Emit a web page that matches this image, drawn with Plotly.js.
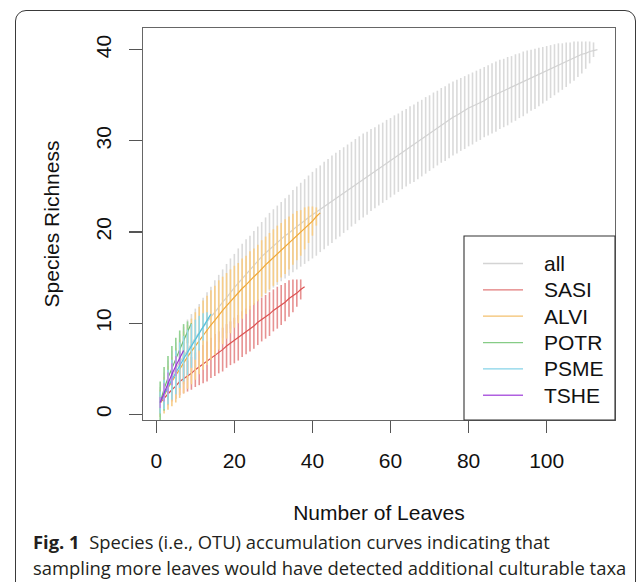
<!DOCTYPE html>
<html><head><meta charset="utf-8">
<script src="https://cdn.plot.ly/plotly-3.0.1.min.js"></script>
<style>
html,body{margin:0;padding:0;background:#fff;overflow:hidden;width:636px;height:582px}
#card{position:absolute;left:15px;top:10px;width:621px;height:700px;border:1.3px solid #3a3a3a;border-radius:11px;box-sizing:border-box}
#chart{position:absolute;left:0;top:0;width:636px;height:582px}
</style></head><body>
<div id="card"></div><div id="chart"></div>
<script>
// ---- data ----
const groupNames = ['all', 'SASI', 'ALVI', 'POTR', 'PSME', 'TSHE'];

const allMean = [1.2,2.2,3.1,4.1,5.0,5.7,6.4,7.1,7.8,8.4,9.0,9.6,10.1,10.7,11.2,11.8,12.3,12.8,13.4,13.9,
14.4,14.9,15.4,15.9,16.4,16.9,17.3,17.7,18.1,18.5,18.9,19.2,19.6,19.9,20.3,20.6,20.9,21.3,21.6,21.9,
22.2,22.5,22.8,23.1,23.4,23.7,24.0,24.3,24.6,24.9,25.2,25.5,25.8,26.1,26.4,26.7,27.0,27.3,27.6,27.9,
28.2,28.5,28.8,29.1,29.4,29.7,30.0,30.3,30.6,30.9,31.2,31.5,31.8,32.0,32.3,32.6,32.8,33.1,33.3,33.6,
33.8,34.0,34.2,34.4,34.7,34.9,35.1,35.3,35.5,35.7,35.9,36.1,36.3,36.5,36.7,36.9,37.1,37.3,37.5,37.7,
37.9,38.1,38.3,38.5,38.7,38.9,39.1,39.3,39.5,39.6,39.8,39.9,40.0];
const allHi = [3.0,4.6,5.9,7.0,7.9,8.8,9.6,10.4,11.0,11.6,12.1,12.8,13.4,14.0,14.7,15.3,15.9,16.5,17.1,17.6,
18.2,18.7,19.2,19.6,20.1,20.6,21.1,21.6,22.1,22.5,22.9,23.3,23.7,24.1,24.6,25.0,25.4,25.8,26.2,26.6,
27.0,27.3,27.7,28.0,28.4,28.7,29.0,29.3,29.6,29.9,30.2,30.5,30.8,31.0,31.3,31.5,31.8,32.0,32.3,32.5,
32.8,33.0,33.3,33.5,33.8,34.0,34.3,34.5,34.8,35.0,35.3,35.5,35.8,36.0,36.3,36.5,36.7,36.9,37.1,37.3,
37.5,37.7,37.9,38.1,38.3,38.5,38.7,38.9,39.0,39.2,39.3,39.5,39.6,39.8,39.9,40.0,40.1,40.2,40.3,40.4,
40.5,40.6,40.7,40.7,40.8,40.8,40.9,40.9,40.9,40.9,40.9,40.8,40.0];
const allLo = [0.0,0.5,1.1,1.7,2.2,2.7,3.3,3.8,4.4,4.9,5.4,5.9,6.4,6.9,7.4,7.9,8.4,8.9,9.4,9.9,
10.3,10.8,11.2,11.6,12.0,12.4,12.8,13.2,13.5,13.9,14.2,14.6,14.9,15.2,15.6,15.9,16.2,16.5,16.8,17.1,
17.4,17.8,18.1,18.5,18.8,19.2,19.5,19.9,20.2,20.6,20.9,21.3,21.6,21.9,22.3,22.6,22.9,23.2,23.5,23.8,
24.1,24.4,24.7,25.0,25.3,25.5,25.8,26.1,26.4,26.7,27.0,27.3,27.6,27.8,28.1,28.4,28.6,28.9,29.1,29.4,
29.6,29.9,30.1,30.4,30.6,30.8,31.0,31.3,31.5,31.7,32.0,32.2,32.5,32.7,33.0,33.3,33.5,33.8,34.1,34.4,
34.7,35.0,35.3,35.6,35.9,36.3,36.6,37.0,37.4,37.9,38.5,39.2,40.0];

const sasiMean = [1.3,1.8,2.2,2.7,3.1,3.6,3.9,4.2,4.5,4.9,5.2,5.5,5.8,6.2,6.5,6.8,7.1,7.5,7.8,8.1,
8.4,8.8,9.1,9.4,9.7,10.1,10.4,10.7,11.0,11.4,11.7,12.0,12.3,12.7,13.0,13.3,13.7,14.0];
const sasiCI = [0.8,1.1,1.2,1.3,1.4,1.5,1.6,1.7,1.8,1.9,2.0,2.1,2.2,2.2,2.3,2.3,2.4,2.4,2.4,2.5,
2.5,2.5,2.5,2.5,2.5,2.5,2.4,2.4,2.4,2.3,2.3,2.2,2.1,2.0,1.8,1.5,1.1,0.0];

const alviMean = [1.2,2.1,2.9,3.6,4.3,5.0,5.7,6.3,6.9,7.5,8.1,8.7,9.2,9.8,10.3,10.9,11.4,11.9,12.4,12.9,
13.3,13.8,14.2,14.7,15.1,15.5,16.0,16.4,16.8,17.2,17.6,18.0,18.4,18.8,19.2,19.6,19.9,20.4,20.8,21.2,
21.7,22.1];
const alviCI = [1.5,2.0,2.4,2.7,3.0,3.2,3.4,3.5,3.6,3.7,3.7,3.8,3.8,3.8,3.8,3.8,3.7,3.6,3.5,3.4,
3.3,3.3,3.2,3.2,3.1,3.1,3.1,3.1,3.1,3.1,3.1,3.0,3.0,2.9,2.8,2.7,2.5,2.3,2.0,1.6,
1.0,0.0];

const potrMean = [1.3,2.8,4.0,5.1,6.1,7.1,8.1,9.0,10.0];
const potrCI   = [2.3,2.4,2.4,2.4,2.3,2.1,1.8,1.2,0.0];

const psmeMean = [1.3,2.2,3.0,3.8,4.6,5.4,6.1,6.8,7.5,8.2,8.9,9.6,10.3,11.0];
const psmeCI   = [1.2,1.6,1.9,2.2,2.4,2.5,2.5,2.5,2.4,2.2,1.9,1.5,0.9,0.0];

const tsheMean = [1.3,2.4,3.4,4.4,5.3,6.2,7.0];
const tsheCI   = [0.6,1.0,1.2,1.2,1.1,0.8,0.0];

const xTicks = [0, 20, 40, 60, 80, 100];
const yTicks = [0, 10, 20, 30, 40];

const captionLines = [
  '<b>Fig. 1</b>  Species (i.e., OTU) accumulation curves indicating that',
  'sampling more leaves would have detected additional culturable taxa'
];

// ---- styles ----
const lineColors = ['#d2d2d2', '#dc5252', '#f0a838', '#6cbd6c', '#56c2de', '#9a38d0'];
const barColors  = ['#dadada', '#e79292', '#f7cd88', '#93d293', '#95d9ea', '#bf8de3'];
const legendColors = ['#d4d4d4', '#e27a7a', '#f3c06e', '#86cc86', '#86d3e8', '#b060e0'];

const series = [
  {mean: allMean, hi: allHi, lo: allLo},
  {mean: sasiMean, ci: sasiCI},
  {mean: alviMean, ci: alviCI},
  {mean: potrMean, ci: potrCI},
  {mean: psmeMean, ci: psmeCI},
  {mean: tsheMean, ci: tsheCI}
];

const FONT = 'Liberation Sans, Arial, Helvetica, sans-serif';
const CAPFONT = 'Open Sans, Noto Sans, sans-serif';
const traces = [];
series.forEach((s, i) => {
  const x = s.mean.map((_, k) => k + 1);
  const plus = s.hi ? s.hi.map((v, k) => v - s.mean[k]) : s.ci;
  const minus = s.lo ? s.lo.map((v, k) => s.mean[k] - v) : s.ci;
  traces.push({
    type: 'scatter', mode: 'markers', x: x, y: s.mean,
    marker: {size: 1, color: 'rgba(0,0,0,0)'},
    error_y: {type: 'data', symmetric: false, array: plus, arrayminus: minus,
              width: 0, thickness: 1.6, color: barColors[i]},
    showlegend: false, hoverinfo: 'skip'
  });
  traces.push({
    type: 'scatter', mode: 'lines', x: x, y: s.mean, name: groupNames[i],
    line: {color: lineColors[i], width: 1.2}, hoverinfo: 'skip', showlegend: false
  });
});

const PX = v => (v - 143) / 472;   // pixel -> paper x
const PY = v => (420 - v) / 392;   // pixel -> paper y

// legend (box in the bottom-right corner of the plot, as in the R figure)
const shapes = [{
  type: 'rect', xref: 'paper', yref: 'paper',
  x0: PX(464), x1: 1, y0: 0, y1: PY(236),
  line: {color: '#333', width: 1.1}, fillcolor: 'rgba(0,0,0,0)'
}];
const annotations = [];
groupNames.forEach((name, i) => {
  const rowY = PY(263.5 + i * 26.35);
  shapes.push({type: 'line', xref: 'paper', yref: 'paper',
    x0: PX(483), x1: PX(523), y0: rowY, y1: rowY,
    line: {color: legendColors[i], width: 1.3}});
  annotations.push({xref: 'paper', yref: 'paper', x: PX(542), y: rowY,
    xanchor: 'left', yanchor: 'middle', showarrow: false, text: name,
    font: {family: FONT, size: 21, color: '#111'}});
});
captionLines.forEach((line, i) => {
  annotations.push({xref: 'paper', yref: 'paper', x: PX(31), y: PY(541 + i * 26.5),
    xanchor: 'left', yanchor: 'middle', showarrow: false, align: 'left', text: line,
    font: {family: CAPFONT, size: 18.4, color: '#231f20'}});
});

const layout = {
  width: 636, height: 582,
  margin: {l: 143, r: 21, t: 28, b: 162},
  paper_bgcolor: 'rgba(0,0,0,0)', plot_bgcolor: 'rgba(0,0,0,0)',
  showlegend: false,
  font: {family: FONT, color: '#111'},
  xaxis: {
    range: [-3.4, 117.5], tickvals: xTicks, ticktext: xTicks.map(String),
    ticks: 'outside', ticklen: 12, tickwidth: 1.1, tickcolor: '#555',
    showline: true, mirror: true, linecolor: '#666', linewidth: 1.2,
    showgrid: false, zeroline: false, ticklabelstandoff: 10,
    tickfont: {family: FONT, size: 21, color: '#111'},
    title: {text: 'Number of Leaves', font: {family: FONT, size: 21, color: '#111'}, standoff: 33}
  },
  yaxis: {
    range: [-0.62, 42.38], tickvals: yTicks, ticktext: yTicks.map(String), tickangle: -90,
    ticks: 'outside', ticklen: 13, tickwidth: 1.1, tickcolor: '#555',
    showline: true, mirror: true, linecolor: '#666', linewidth: 1.2,
    showgrid: false, zeroline: false, ticklabelstandoff: 9,
    tickfont: {family: FONT, size: 21, color: '#111'},
    title: {text: 'Species Richness', font: {family: FONT, size: 21, color: '#111'}, standoff: 27}
  },
  shapes: shapes,
  annotations: annotations
};

Plotly.newPlot('chart', traces, layout, {staticPlot: true, displayModeBar: false});
</script></body></html>
